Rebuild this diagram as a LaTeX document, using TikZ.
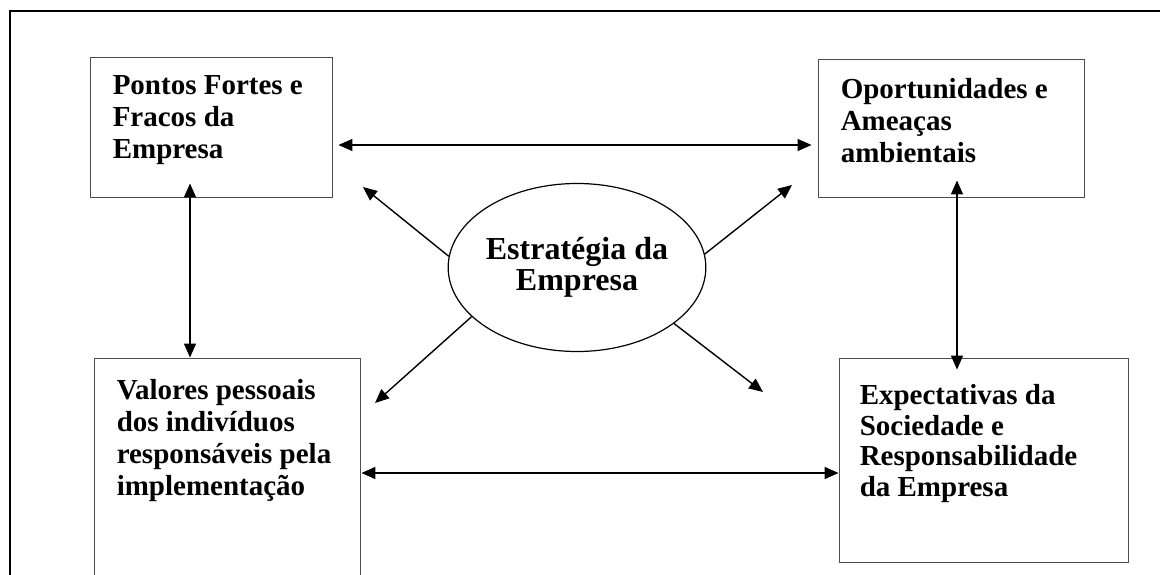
\documentclass[tikz,border=0pt]{standalone}
\usepackage{fontspec}
\setmainfont{Liberation Serif}
\usetikzlibrary{arrows.meta,shapes.geometric}

\begin{document}
\begin{tikzpicture}[
  x=1pt, y=-1pt,
  >={Triangle[length=14pt,width=12pt]},
  box/.style={draw=black!70, line width=0.9pt, rectangle, inner sep=0pt},
  txt/.style={anchor=north west, inner sep=0pt, align=left, font=\bfseries\fontsize{29}{32}\selectfont},
  link/.style={line width=1.4pt}
]
\clip (0,0) rectangle (1160,575);

\draw [line width=1.2pt] (10,575) -- (10,11) -- (1160,11);

\node [box, minimum width=242pt, minimum height=140pt] (tl) at (211,127) {};
\node [box, minimum width=266pt, minimum height=138pt] (tr) at (951,128) {};
\node [box, minimum width=266pt, minimum height=250pt] (bl) at (227,483) {};
\node [box, minimum width=289pt, minimum height=204pt] (br) at (983.5,460) {};

\node [txt] (tltxt) at ([xshift=23pt,yshift=-19pt]tl.north west) {Pontos Fortes e\\Fracos da\\Empresa};
\node [txt] (trtxt) at ([xshift=23pt,yshift=-20pt]tr.north west) {Oportunidades e\\Ameaças\\ambientais};
\node [txt] (bltxt) at ([xshift=23pt,yshift=-22pt]bl.north west) {Valores pessoais\\dos indivíduos\\responsáveis pela\\implementação};
\node [txt, font=\bfseries\fontsize{29}{30.5}\selectfont] (brtxt) at ([xshift=21pt,yshift=-27pt]br.north west) {Expectativas da\\Sociedade e\\Responsabilidade\\da Empresa};

\node [draw, ellipse, line width=1.2pt, inner sep=0pt, minimum width=241pt, minimum height=168pt,
  align=center, font=\bfseries\fontsize{32}{31}\selectfont] (strat) at (577,267.5) {Estratégia da\\Empresa};

\coordinate (ul) at (363,187);
\coordinate (ur) at (792,185);
\coordinate (ll) at (375,403);
\coordinate (lr) at (763,392);

\draw [link, <->, shorten <=6pt, shorten >=6pt] (tl.east |- 0,145) -- (tr.west |- 0,145);
\draw [link, <->, shorten <=1pt] (bl.east |- 0,473) -- (br.west |- 0,473);
\draw [link, <->, shorten <=-14pt] (tl.south -| 190,0) -- (bl.north -| 190,0);
\draw [link, <->, shorten <=-17pt, shorten >=-12pt] (tr.south -| 957,0) -- (br.north -| 957,0);

\draw [link, ->] (strat.175) -- (ul);
\draw [link, ->] (strat.6) -- (ur);
\draw [link, ->] (strat.205) -- (ll);
\draw [link, ->] (strat.330) -- (lr);
\end{tikzpicture}
\end{document}
